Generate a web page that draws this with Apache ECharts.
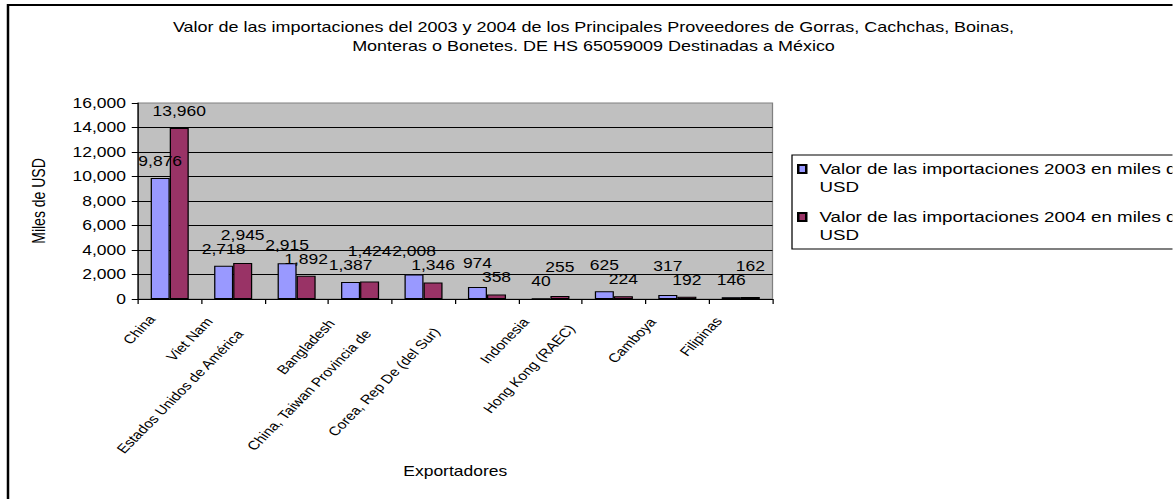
<!DOCTYPE html>
<html>
<head>
<meta charset="utf-8">
<script src="https://cdn.jsdelivr.net/npm/echarts/dist/echarts.min.js"></script>
<style>
html,body{margin:0;padding:0;background:#fff;overflow:hidden;width:1173px;height:499px;}
#chart{width:938.4px;height:499px;transform:scaleX(1.25);transform-origin:0 0;}
</style>
</head>
<body>
<div id="chart"></div>
<script>
// ---- data ----
var categories = ['China', 'Viet Nam', 'Estados Unidos de América', 'Bangladesh',
  'China, Taiwan Provincia de', 'Corea, Rep De (del Sur)', 'Indonesia',
  'Hong Kong (RAEC)', 'Camboya', 'Filipinas'];
var values2003 = [9876, 2718, 2915, 1387, 2008, 974, 40, 625, 317, 146];
var values2004 = [13960, 2945, 1892, 1424, 1346, 358, 255, 224, 192, 162];
var seriesNames = ['Valor de las importaciones 2003 en miles de USD',
  'Valor de las importaciones 2004 en miles de USD'];
var yTicks = [0, 2000, 4000, 6000, 8000, 10000, 12000, 14000, 16000];
var titleLines = ['Valor de las importaciones del 2003 y 2004 de los Principales Proveedores de Gorras, Cachchas, Boinas,',
  'Monteras o Bonetes. DE HS 65059009 Destinadas a México'];

var FONT = '"Liberation Sans", Arial, sans-serif';
var XLAB_SIZE = 12.5, DLAB_SIZE = 14;
function fmt(v) { return v.toLocaleString('en-US'); }
var mctx = document.createElement('canvas').getContext('2d');
function textW(s, size) { mctx.font = size + 'px "Liberation Sans", Arial, sans-serif'; return mctx.measureText(s).width; }

// Excel-like placement of rotated category labels (longer labels sit further left/lower)
var xRich = {};
categories.forEach(function (c, i) {
  var w = textW(c, XLAB_SIZE);
  xRich['c' + i] = {
    fontFamily: FONT, fontSize: XLAB_SIZE, color: '#000',
    padding: [0, 8.4 + 0.2545 * w, 1.9 + 0.248 * w, 0]
  };
});

// raise a data label when it would collide with its neighbour in the same group
function dataLabelLayout(p) {
  var i = p.dataIndex, s = p.seriesIndex;
  var vals = [values2003[i], values2004[i]];
  var mine = vals[s], other = vals[1 - s];
  if (!(mine > other)) return {};
  var h = p.rect.height;
  var otherH = h * other / mine;
  var diff = h - otherH;
  var wOther = textW(fmt(other), DLAB_SIZE);
  var overlapX = (p.labelRect.width + wOther) / 2 > p.rect.width;
  var lh = p.labelRect.height;
  if (overlapX && diff < lh) return {dy: -(lh - diff)};
  return {};
}

var chart = echarts.init(document.getElementById('chart'), null, {renderer: 'svg'});
var option = {
  animation: false,
  backgroundColor: '#fff',
  textStyle: {fontFamily: FONT, color: '#000'},
  title: {
    text: titleLines.join('\n'),
    left: 474.8,
    textAlign: 'center',
    top: 17,
    padding: 0,
    textStyle: {fontFamily: FONT, fontSize: 14.4, fontWeight: 'normal', color: '#000', lineHeight: 19}
  },
  graphic: [{
    type: 'rect', silent: true, z: -10,
    shape: {x: 6.4, y: 5, width: 3000, height: 3000},
    style: {fill: 'none', stroke: '#000', lineWidth: 2}
  }],
  legend: {
    orient: 'vertical',
    left: 633.6,
    top: 155,
    padding: [4, 10, 4, 4],
    itemGap: 10,
    itemWidth: 12,
    itemHeight: 36,
    icon: 'path://M0,0h0M0,5h6.4v8h-6.4zM12,36h0',
    borderColor: '#000',
    borderWidth: 1,
    data: seriesNames,
    formatter: function (n) { return n.replace(' USD', '\nUSD'); },
    textStyle: {fontFamily: FONT, fontSize: 15, color: '#000', lineHeight: 18}
  },
  grid: {
    left: 110.4, right: 320, top: 103, bottom: 200,
    show: true, backgroundColor: '#C0C0C0', borderColor: '#808080', borderWidth: 1,
    containLabel: false, outerBoundsMode: 'none'
  },
  xAxis: {
    type: 'category',
    data: categories,
    name: 'Exportadores',
    nameLocation: 'middle',
    nameGap: 165,
    nameTextStyle: {fontFamily: FONT, fontSize: 14, color: '#000'},
    axisLine: {lineStyle: {color: '#000', width: 1}},
    axisTick: {show: true, length: 5, lineStyle: {color: '#000'}},
    axisLabel: {
      interval: 0, rotate: 51.34, margin: 8,
      fontFamily: FONT, fontSize: XLAB_SIZE, color: '#000',
      formatter: function (v, i) { return '{c' + i + '|' + v + '}'; },
      rich: xRich
    }
  },
  yAxis: {
    type: 'value',
    min: 0, max: 16000, interval: 2000,
    name: 'Miles de USD',
    nameLocation: 'middle',
    nameGap: 72,
    nameRotate: 90,
    nameTextStyle: {fontFamily: FONT, fontSize: 14, color: '#000'},
    axisLine: {show: true, lineStyle: {color: '#000', width: 1}},
    axisTick: {show: true, length: 5, lineStyle: {color: '#000'}},
    axisLabel: {
      margin: 9.6, fontFamily: FONT, fontSize: 14, color: '#000',
      formatter: function (v) { return yTicks.indexOf(v) >= 0 ? fmt(v) : ''; }
    },
    splitLine: {show: true, showMaxLine: false, showMinLine: false, lineStyle: {color: '#000', width: 1}}
  },
  series: [{
    name: seriesNames[0],
    type: 'bar',
    data: values2003,
    barGap: '0%',
    barCategoryGap: '40%',
    itemStyle: {color: '#9999FF', borderColor: '#000', borderWidth: 1},
    label: {
      show: true, position: 'top', distance: 10,
      fontFamily: FONT, fontSize: DLAB_SIZE, color: '#000',
      formatter: function (p) { return fmt(p.value); }
    },
    labelLayout: dataLabelLayout
  }, {
    name: seriesNames[1],
    type: 'bar',
    data: values2004,
    barGap: '0%',
    barCategoryGap: '40%',
    itemStyle: {color: '#993366', borderColor: '#000', borderWidth: 1},
    label: {
      show: true, position: 'top', distance: 10,
      fontFamily: FONT, fontSize: DLAB_SIZE, color: '#000',
      formatter: function (p) { return fmt(p.value); }
    },
    labelLayout: dataLabelLayout
  }]
};
chart.setOption(option);
</script>
</body>
</html>
